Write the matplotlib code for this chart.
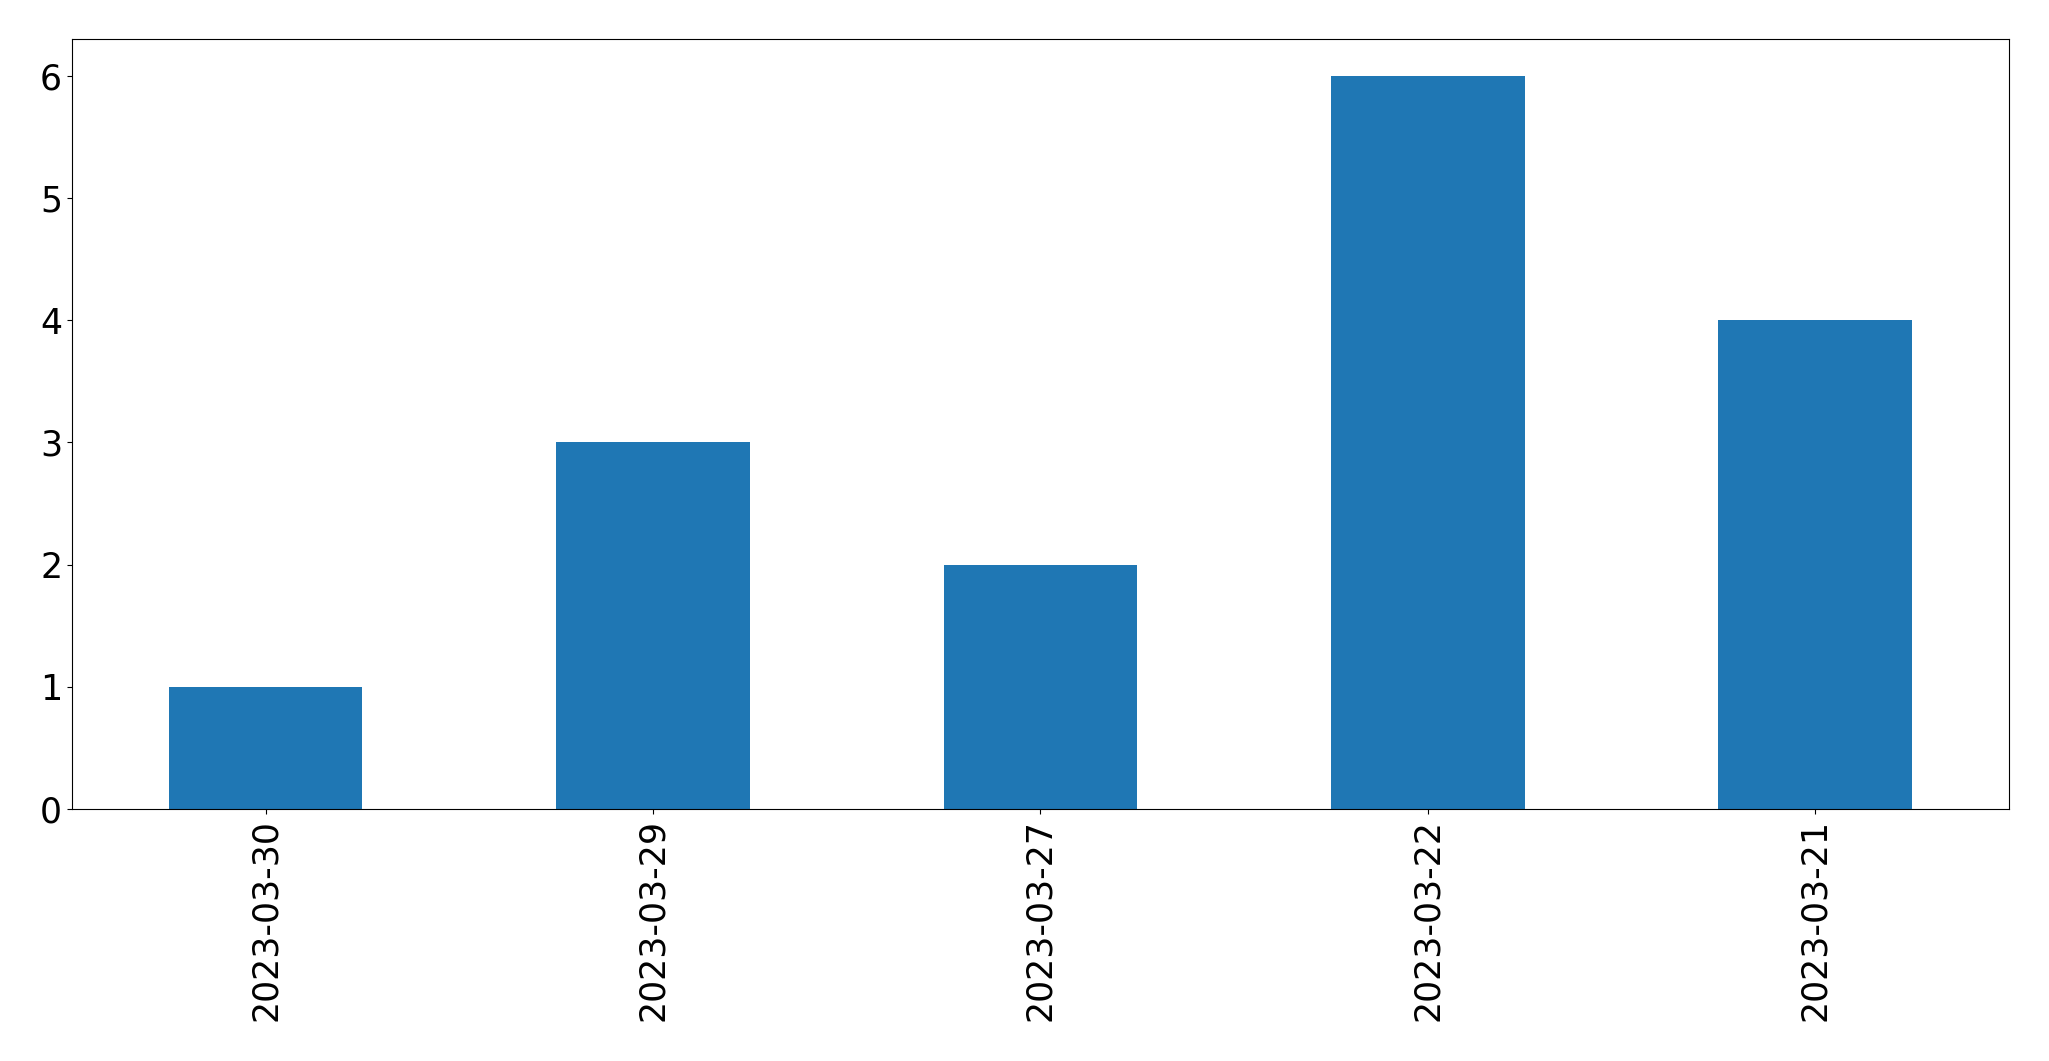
import matplotlib
matplotlib.use("Agg")
import matplotlib.pyplot as plt
import pandas as pd

dates = ["2023-03-30", "2023-03-29", "2023-03-27", "2023-03-22", "2023-03-21"]
counts = [1, 3, 2, 6, 4]

s = pd.Series(counts, index=dates)

fig, ax = plt.subplots(figsize=(20.49, 10.61), dpi=100)
s.plot(kind="bar", ax=ax, color="#1f77b4", fontsize=25)
ax.set_xlabel("")
fig.subplots_adjust(left=0.0351, right=0.9805, top=0.9632, bottom=0.2375)
fig.savefig("out.png", dpi=100)
